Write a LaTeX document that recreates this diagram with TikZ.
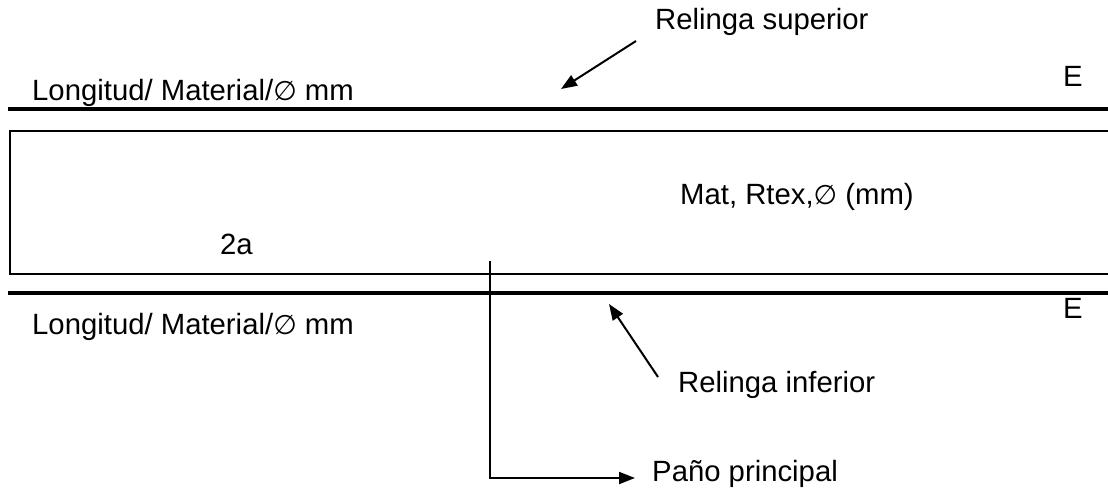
\documentclass[tikz,border=0pt]{standalone}
\usepackage{fontspec}
\setmainfont{Liberation Sans}
\newfontfamily\dvs{DejaVu Sans}
\newcommand{\diam}{{\dvs\fontsize{27}{30}\selectfont ∅}}
\usetikzlibrary{arrows.meta}
\begin{document}
\begin{tikzpicture}[x=1pt,y=-1pt,
  lbl/.style={anchor=base west,inner sep=0pt,font=\fontsize{29.3}{33}\selectfont},
  rope/.style={line width=4pt},
  thin/.style={line width=1.5pt},
  arr/.style={line width=2pt,-{Triangle[length=16pt,width=12pt]}}]
\useasboundingbox (0,0) rectangle (1108,488);
% ropes
\coordinate (ts) at (8,109); \coordinate (te) at (1108,109);
\coordinate (bs) at (8,293); \coordinate (be) at (1108,293);
\draw[rope] (ts) -- (te);
\draw[rope] (bs) -- (be);
% panel
\draw[thin] (1110,131) -- (10,131) -- (10,274) -- (1110,274);
% texts
\node[lbl] (rs) at (655,29) {Relinga superior};
\node[lbl] (lu) at (32,100) {Longitud/ Material/\diam\ mm};
\node[lbl] (eu) at (1063,86) {E};
\node[lbl] (mat) at (680,204) {Mat, Rtex,\diam\ (mm)};
\node[lbl] (twoa) at (220,254) {2a};
\node[lbl] (el) at (1063,318) {E};
\node[lbl] (ll) at (32,334) {Longitud/ Material/\diam\ mm};
\node[lbl] (ri) at (678,392) {Relinga inferior};
\node[lbl] (pp) at (652,481) {Paño principal};
% arrows
\coordinate (a1s) at (636,41); \coordinate (a1e) at (561,89);
\draw[arr] (a1s) -- (a1e);
\coordinate (a2s) at (658,377); \coordinate (a2e) at (609,304);
\draw[arr] (a2s) -- (a2e);
\coordinate (p1) at (490,261); \coordinate (p2) at (490,478); \coordinate (p3) at (635,478);
\draw[arr] (p1) -- (p2) -- (p3);
\end{tikzpicture}
\end{document}
